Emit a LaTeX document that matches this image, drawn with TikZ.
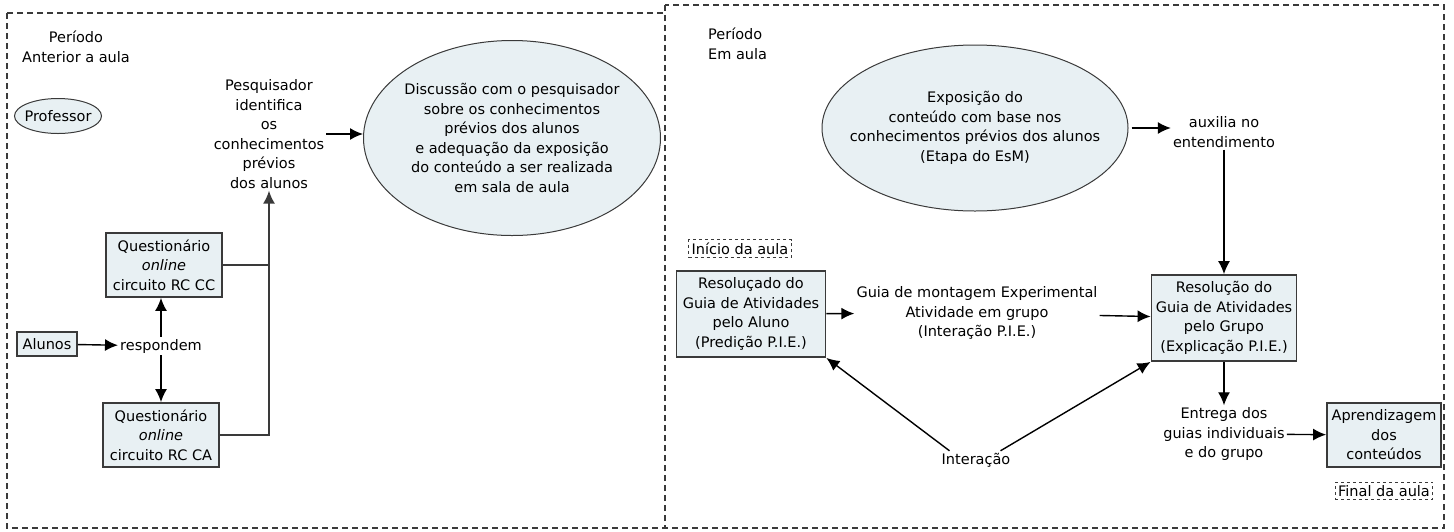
\documentclass[tikz,border=0pt]{standalone}
\usepackage{fontspec}
\setmainfont{DejaVu Sans}
\usetikzlibrary{shapes.geometric, positioning, arrows.meta}
\definecolor{paleblue}{HTML}{E8F0F3}
\definecolor{darkline}{HTML}{3A3A3A}
\tikzset{
    >={Latex[length=13pt, width=12pt]}, % filled triangle arrow heads
    every node/.style={font=\fontsize{14.5}{19.5}\selectfont, align=center, inner sep=2pt}, % text of every node
    box/.style={draw=darkline, line width=1.8pt, fill=paleblue}, % framed steps
    bubble/.style={ellipse, draw=darkline, line width=1pt, fill=paleblue, inner sep=0pt}, % round steps
    tagbox/.style={draw=darkline, dashed, line width=1pt, inner sep=3pt}, % start and end tags
    panel/.style={draw=darkline, dash pattern=on 6pt off 4pt, line width=1.1pt}, % the two periods
    link/.style={->, line width=1.4pt}, % arrows between steps
}

\begin{document}
\begin{tikzpicture}[x=1pt, y=-1pt]
    \useasboundingbox (0,0) rectangle (1454,531);
    % the two periods
    \draw[panel] (7,13) rectangle (665,528);
    \draw[panel] (665,5) rectangle (1444,528);

    % before class
    \node (antes) at (76,47) {Período\\Anterior a aula};
    \node[bubble, minimum width=87pt, minimum height=35pt] (prof) at (58,116) {};
    \node (proftext) at (prof) {Professor};
    \node[box, minimum width=60pt, minimum height=24pt, inner sep=1pt] (alunos) at (47,344) {Alunos};
    \node (resp) at (161,346) {respondem};
    \node[box, minimum width=116pt, minimum height=64pt] (q1) at (164,265) {Questionário\\\textit{online}\\circuito RC CC};
    \node[box, minimum width=116pt, minimum height=64pt] (q2) at (161,435) {Questionário\\\textit{online}\\circuito RC CA};
    \node (pesq) at (269,134) {Pesquisador\\identifica\\os\\conhecimentos\\prévios\\dos alunos};
    \node[bubble, minimum width=297pt, minimum height=195pt] (disc) at (512,138) {};
    \node (disctext) at (disc) {Discussão com o pesquisador\\sobre os conhecimentos\\prévios dos alunos\\e adequação da exposição\\do conteúdo a ser realizada\\em sala de aula};

    \draw[link] (alunos) -- (resp);
    \draw[link] (resp.north) -- (resp.north |- q1.south);
    \draw[link] (resp.south) -- (resp.south |- q2.north);
    \draw[line width=2pt, darkline] (q1.east) -- (q1.east -| pesq.south);
    \draw[link, line width=2pt, darkline] (q2.east) -| (pesq.south);
    \draw[link] (pesq.east) -- (pesq.east -| disc.west);

    % in class
    \node[anchor=west, align=left] (durante) at (706,44) {Período\\Em aula};
    \node[bubble, minimum width=306pt, minimum height=166pt] (expo) at (975,128) {};
    \node (expotext) at (expo) {Exposição do\\conteúdo com base nos\\conhecimentos prévios dos alunos\\(Etapa do EsM)};
    \node (aux) at (1224,132) {auxilia no\\entendimento};
    \node[box, minimum width=149pt, minimum height=86pt] (aluno) at (751,314) {Resoluçado do\\Guia de Atividades\\pelo Aluno\\(Predição P.I.E.)};
    \node[tagbox, above=12pt of aluno, xshift=-11pt] (inicio) {Início da aula};
    \node (guia) at (977,313) {Guia de montagem Experimental\\Atividade em grupo\\(Interação P.I.E.)};
    \node[box, minimum width=145pt, minimum height=86pt] (grupo) at (1224,318) {Resolução do\\Guia de Atividades\\pelo Grupo\\(Explicação P.I.E.)};
    \node (inter) at (976,460) {Interação};
    \node (entrega) at (1224,434) {Entrega dos\\guias individuais\\e do grupo};
    \node[box, minimum width=114pt, minimum height=64pt] (aprend) at (1384,435) {Aprendizagem\\dos\\conteúdos};
    \node[tagbox, below=14pt of aprend] (final) {Final da aula};

    \draw[link] ([xshift=3pt]expo.east) -- (expo.east -| aux.west);
    \draw[link] (aux) -- (grupo);
    \draw[link] (aluno) -- (guia);
    \draw[link] (guia) -- (grupo);
    \draw[link] ([xshift=10pt]inter.north west) -- (aluno.south east);
    \draw[link] ([xshift=-12pt]inter.north east) -- (grupo.south west);
    \draw[link] (grupo) -- (entrega);
    \draw[link] (entrega) -- (aprend);
\end{tikzpicture}
\end{document}
